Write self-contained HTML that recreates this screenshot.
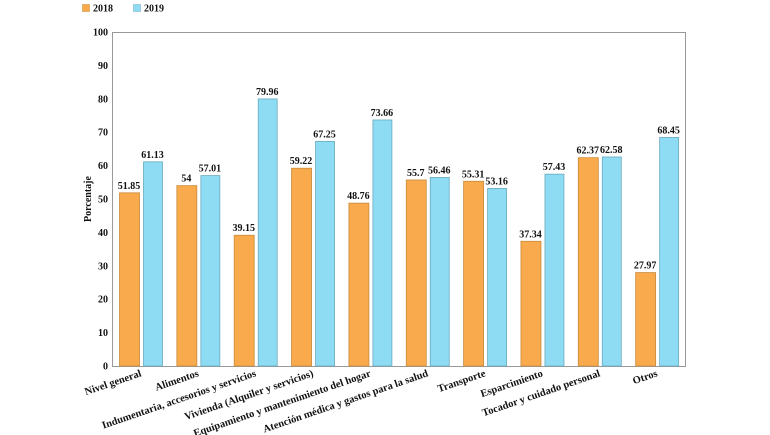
<!DOCTYPE html>
<html><head><meta charset="utf-8"><style>
html,body{margin:0;padding:0;background:#fff;width:770px;height:435px;overflow:hidden}
svg text{font-family:"Liberation Serif","DejaVu Serif",serif !important;font-weight:bold;fill:#111}
</style></head><body>
<svg width="770" height="435" viewBox="0 0 770 435" xmlns="http://www.w3.org/2000/svg" font-family="Liberation Serif, serif">
<rect x="82.5" y="4.5" width="7" height="7" fill="#f9aa4c" stroke="#c88a3c" stroke-width="0.5"/>
<text x="93" y="11.5" font-size="10">2018</text>
<rect x="133.5" y="4.5" width="7" height="7" fill="#8edcf4" stroke="#6aa9bd" stroke-width="0.5"/>
<text x="144" y="11.5" font-size="10">2019</text>
<rect x="112.5" y="32.5" width="573" height="334" fill="none" stroke="#999" stroke-width="1"/>
<g font-size="10" text-anchor="end" id="yl"></g>
<text transform="translate(91,199) rotate(-90)" font-size="10" text-anchor="middle">Porcentaje</text>
<g id="bars"></g>
</svg>
<script>
var ns="http://www.w3.org/2000/svg";
function el(t,a,txt){var e=document.createElementNS(ns,t);for(var k in a)e.setAttribute(k,a[k]);if(txt!=null)e.textContent=txt;return e;}
var yl=document.getElementById('yl');
for(var v=0;v<=100;v+=10){var y=366-v*3.34;yl.appendChild(el('text',{x:108,y:y+3.5},v));}
var d=[["Nivel general",51.85,61.13],["Alimentos",54,57.01],["Indumentaria, accesorios y servicios",39.15,79.96],["Vivienda (Alquiler y servicios)",59.22,67.25],["Equipamiento y mantenimiento del hogar",48.76,73.66],["Atención médica y gastos para la salud",55.7,56.46],["Transporte",55.31,53.16],["Esparcimiento",37.34,57.43],["Tocador y cuidado personal",62.37,62.58],["Otros",27.97,68.45]];
var g=document.getElementById('bars');
d.forEach(function(r,i){
 var x0=112+i*57.35+7;
 [[r[1],x0,20,"#f9aa4c","#c88a3c"],[r[2],x0+24,19,"#8edcf4","#6aa9bd"]].forEach(function(b){
  var h=b[0]*3.34;
  g.appendChild(el('rect',{x:b[1]+0.5,y:366-h,width:b[2],height:h,fill:b[3],stroke:b[4],'stroke-width':0.8}));
  g.appendChild(el('text',{x:b[1]+b[2]/2,y:366-h-4,'font-size':10,'text-anchor':'middle'},String(b[0])));
 });
 var cx=x0+23;
 g.appendChild(el('text',{transform:'translate('+cx+',376) rotate(-19)','font-size':10.5,'text-anchor':'end'},r[0]));
});
</script>
</body></html>
